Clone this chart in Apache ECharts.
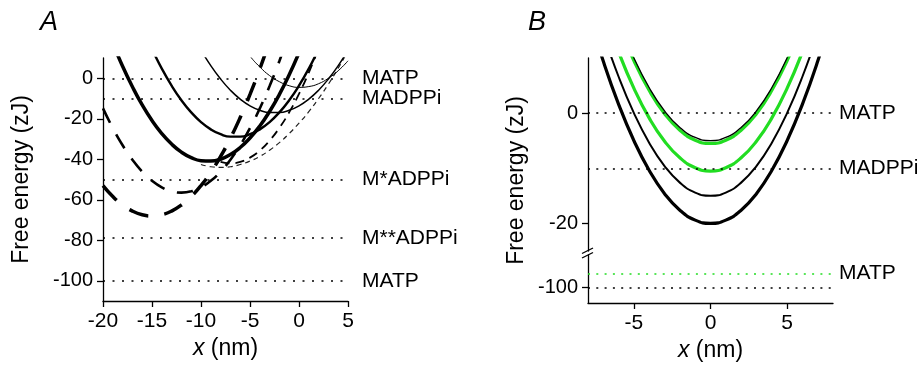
<!DOCTYPE html>
<html><head><meta charset="utf-8">
<script src="https://cdn.jsdelivr.net/npm/echarts@6/dist/echarts.min.js"></script>
<style>html,body{margin:0;padding:0;background:#fff}#c{width:920px;height:365px}</style>
</head><body><div id="c"></div>
<script>
// ---------- Panel A data ----------
const xA = [-20,-19,-18,-17,-16,-15,-14,-13,-12,-11,-10,-9,-8,-7,-6,-5,-4,-3,-2,-1,0,1,2,3,4,5];
const aThickSolid = [null,17.3,5.9,-4.2,-13.2,-20.9,-27.3,-32.5,-36.5,-39.2,-40.7,-40.9,-40.0,-37.7,-34.2,-29.5,-23.6,-16.4,-8.0,1.7,12.6,null,null,null,null,null];
const aMedSolid = [null,null,null,null,null,14.4,4.75,-3.65,-10.85,-16.85,-21.65,-25.25,-27.65,-28.85,-28.85,-27.65,-25.25,-21.65,-16.85,-10.85,-3.65,4.75,14.4,null,null,null];
const aThinSolid = [null,null,null,null,null,null,null,null,null,null,13.9,6.2,-0.4,-5.9,-10.3,-13.6,-15.8,-16.9,-16.9,-15.8,-13.6,-10.3,-5.9,-0.4,6.2,13.9];
const aHairSolid = [null,null,null,null,null,null,null,null,null,null,null,null,null,null,17.4,10.9,5.6,1.3,-1.7,-3.7,-4.5,-4.1,-2.7,0,3.7,8.6];
const aThickDash = [-53,-58.4,-62.6,-65.6,-67.4,-68,-67.4,-65.6,-62.6,-58.4,-53,-46.4,-38.6,-29.6,-19.4,-8,4.6,18.4,null,null,null,null,null,null,null,null];
const aMedDash = [-14.9,-24.6,-33.1,-40.25,-46.1,-50.65,-53.9,-55.85,-56.5,-55.85,-53.9,-50.65,-46.1,-40.25,-33.1,-24.6,-14.9,-3.85,8.5,22.1,null,null,null,null,null,null];
const aThinDash = [null,null,null,null,null,null,null,null,null,null,-42.6,-43.7,-44,-43.7,-42.6,-40.9,-38.6,-35.5,-31.8,-27.3,-22.2,-16.5,-10,-2.9,5,13.5];
const aMidDash = [null,null,null,null,null,null,null,null,null,null,null,null,-41.3,-42,-41.3,-39.2,-35.7,-30.8,-24.5,-16.8,-7.7,2.8,14.7,null,null,null];
const levelsA = [0,-10,-50,-79,-100];
const levelNamesA = ['MATP','MADPPi','M*ADPPi','M**ADPPi','MATP'];
const yTicksA = [-100,-80,-60,-40,-20,0];

// ---------- Panel B data ----------
const xB = [-8,-7,-6,-5,-4,-3,-2,-1,0,1,2,3,4,5,6,7,8];
const bThin5 = [33.4,24.4,16.6,10,4.6,0.4,-2.6,-4.4,-5,-4.4,-2.6,0.4,4.6,10,16.6,24.4,33.4];
const bGreen5 = [32.9,23.9,16.1,9.5,4.1,-0.1,-3.1,-4.9,-5.5,-4.9,-3.1,-0.1,4.1,9.5,16.1,23.9,32.9];
const bGreen10 = [27.9,18.9,11.1,4.5,-0.9,-5.1,-8.1,-9.9,-10.5,-9.9,-8.1,-5.1,-0.9,4.5,11.1,18.9,27.9];
const bBlack15 = [23.4,14.4,6.6,0,-5.4,-9.6,-12.6,-14.4,-15,-14.4,-12.6,-9.6,-5.4,0,6.6,14.4,23.4];
const bThick20 = [18.4,9.4,1.6,-5,-10.4,-14.6,-17.6,-19.4,-20,-19.4,-17.6,-14.6,-10.4,-5,1.6,9.4,18.4];
const levelsBUpper = [0,-10];
const levelNamesBUpper = ['MATP','MADPPi'];
const levelsBLower = [-97.5,-100];
const levelNamesBLower = ['MATP',''];
const levelColorsBLower = ['#22dd22','#000'];
const yTicksBUpper = [0,-20];
const yTicksBLower = [-100];
const xTicksB = [-5,0,5];

const FONT = '"Liberation Sans", Arial, Helvetica, sans-serif';
const GREEN = '#22dd22';

function pairs(xs, ys){ const out=[]; xs.forEach((x,i)=>{ if(ys[i]!=null) out.push([x,ys[i]]); }); return out; }
function curve(xs, ys, grid, width, color, dash, z){
  return {type:'line', xAxisIndex:grid, yAxisIndex:grid, data:pairs(xs,ys), smooth:true, symbol:'none', clip:true,
    lineStyle:{width:width, color:color, type:dash||'solid', cap:'butt'}, z:z||3, silent:true};
}
function levels(grid, vals, names, colors, dash, dist, padTop){
  return {type:'line', xAxisIndex:grid, yAxisIndex:grid, data:[], symbol:'none', silent:true, z:1,
    markLine:{silent:true, symbol:['none','none'], animation:false,
      data: vals.map((v,i)=>({yAxis:v,
        lineStyle:{color: colors? colors[i] : '#000', type:dash, width:1.6},
        label:{show: !!names[i], formatter: names[i], position:'end', distance:dist, color:'#000', fontSize:21, fontFamily:FONT, padding:[padTop && i===0 ? padTop : 0,0,0,0]}}))
    }};
}
const axLine = {show:true, onZero:false, lineStyle:{color:'#000', width:1.3}};
const tickStyle = {color:'#000', width:1.3};

const option = {
  animation:false,
  backgroundColor:'#fff',
  grid:[
    {left:103, top:58, width:245, height:245},
    {left:588, top:58, width:245, height:193},
    {left:588, top:255, width:245, height:48},
    {left:588, top:58, width:245, height:245}
  ],
  xAxis:[
    {gridIndex:0, type:'value', min:-20, max:5, interval:5, axisLine:axLine,
     axisTick:{show:true, length:6, lineStyle:tickStyle}, splitLine:{show:false},
     axisLabel:{color:'#000', fontSize:21, fontFamily:FONT, margin:10},
     name:'{i|x} (nm)', nameLocation:'middle', nameGap:36,
     nameTextStyle:{color:'#000', fontSize:23, fontFamily:FONT, rich:{i:{fontStyle:'italic', fontSize:23, fontFamily:FONT, color:'#000'}}}},
    {gridIndex:1, type:'value', min:-8, max:8, show:false},
    {gridIndex:2, type:'value', min:-8, max:8, axisLine:axLine,
     axisTick:{show:true, length:6, lineStyle:tickStyle, customValues:xTicksB}, splitLine:{show:false},
     axisLabel:{color:'#000', fontSize:21, fontFamily:FONT, margin:10, customValues:xTicksB},
     name:'{i|x} (nm)', nameLocation:'middle', nameGap:36,
     nameTextStyle:{color:'#000', fontSize:23, fontFamily:FONT, rich:{i:{fontStyle:'italic', fontSize:23, fontFamily:FONT, color:'#000'}}}},
    {gridIndex:3, type:'value', min:0, max:1, show:false}
  ],
  yAxis:[
    {gridIndex:0, type:'value', min:-110, max:10, axisLine:axLine,
     axisTick:{show:true, length:6, lineStyle:tickStyle, customValues:yTicksA}, splitLine:{show:false},
     axisLabel:{color:'#000', fontSize:20, fontFamily:FONT, margin:10, customValues:yTicksA},
     name:'Free energy (zJ)', nameLocation:'middle', nameGap:70,
     nameTextStyle:{color:'#000', fontSize:23, fontFamily:FONT}},
    {gridIndex:1, type:'value', min:-25, max:10, axisLine:axLine,
     axisTick:{show:true, length:6, lineStyle:tickStyle, customValues:yTicksBUpper}, splitLine:{show:false},
     axisLabel:{color:'#000', fontSize:20, fontFamily:FONT, margin:10, customValues:yTicksBUpper}},
    {gridIndex:2, type:'value', min:-102.8, max:-94.2, axisLine:axLine,
     axisTick:{show:true, length:6, lineStyle:tickStyle, customValues:yTicksBLower}, splitLine:{show:false},
     axisLabel:{color:'#000', fontSize:20, fontFamily:FONT, margin:10, customValues:yTicksBLower}},
    {gridIndex:3, type:'value', min:0, max:1, axisLine:{show:false}, axisTick:{show:false}, axisLabel:{show:false}, splitLine:{show:false},
     name:'Free energy (zJ)', nameLocation:'middle', nameGap:60,
     nameTextStyle:{color:'#000', fontSize:23, fontFamily:FONT}}
  ],
  series:[
    levels(0, levelsA, levelNamesA, null, [2,7.5], 14),
    curve(xA, aThickDash, 0, 3.5, '#000', [20,16], 3),
    curve(xA, aMedDash, 0, 2.6, '#000', [16,13], 3),
    curve(xA, aThinDash, 0, 1.2, '#222', [5,4], 3),
    curve(xA, aMidDash, 0, 1.8, '#000', [9,6], 3),
    curve(xA, aThickSolid, 0, 3.5, '#000', null, 4),
    curve(xA, aMedSolid, 0, 2.4, '#000', null, 4),
    curve(xA, aThinSolid, 0, 1.5, '#000', null, 4),
    curve(xA, aHairSolid, 0, 1.0, '#000', null, 4),

    levels(1, levelsBUpper, levelNamesBUpper, null, [2,6.3], 6),
    levels(2, levelsBLower, levelNamesBLower, levelColorsBLower, [2,6.3], 6, 12),
    curve(xB, bThick20, 1, 3.2, '#000', null, 3),
    curve(xB, bBlack15, 1, 2.0, '#000', null, 3),
    curve(xB, bGreen10, 1, 3.2, GREEN, null, 3),
    curve(xB, bGreen5, 1, 3.2, GREEN, null, 3),
    curve(xB, bThin5, 1, 1.3, '#000', null, 4)
  ],
  graphic:[
    {type:'text', left:40, top:9, style:{text:'A', fontSize:27, fontStyle:'italic', fontFamily:FONT, fill:'#000'}},
    {type:'text', left:528, top:9, style:{text:'B', fontSize:27, fontStyle:'italic', fontFamily:FONT, fill:'#000'}},
    {type:'line', shape:{x1:582, y1:253.5, x2:593, y2:248}, style:{stroke:'#000', lineWidth:1.3}},
    {type:'line', shape:{x1:582, y1:258, x2:593, y2:252.5}, style:{stroke:'#000', lineWidth:1.3}}
  ]
};
const chart = echarts.init(document.getElementById('c'), null, {renderer:'canvas'});
chart.setOption(option);
</script>
</body></html>
